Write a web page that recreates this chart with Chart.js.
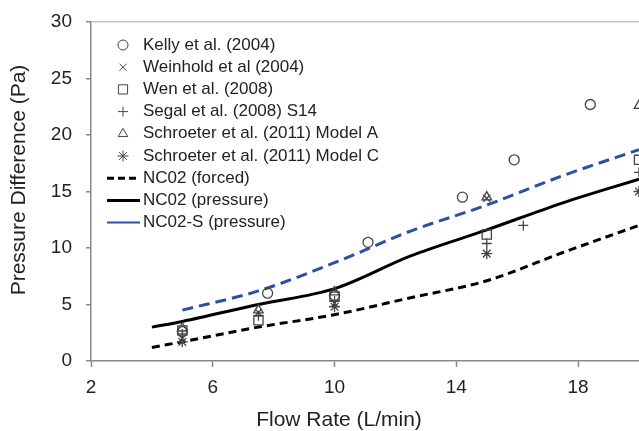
<!DOCTYPE html>
<html>
<head>
<meta charset="utf-8">
<script src="https://cdn.jsdelivr.net/npm/chart.js@4.4.0/dist/chart.umd.min.js"></script>
<style>
  html, body { margin: 0; padding: 0; background: #fff; }
</style>
</head>
<body>
<canvas id="grafico_pressione" width="639" height="431"></canvas>
<script>
// dati
var tick_x = [2, 6, 10, 14, 18];

var kelly_x = [5, 7.8, 10, 11.1, 14.2, 15.9, 18.4];
var kelly_y = [2.6, 6.0, 5.8, 10.5, 14.5, 17.8, 22.7];

var weinhold_x = [5, 7.5, 10, 15];
var weinhold_y = [2.0, 4.3, 5.1, 14.4];

var wen_x = [5, 7.5, 10, 15, 20];
var wen_y = [2.7, 3.6, 5.7, 11.2, 17.8];

var segal_x = [5, 7.5, 10, 15, 16.2, 20];
var segal_y = [2.4, 4.0, 5.3, 10.4, 12.0, 16.7];

var modelA_x = [5, 7.5, 10, 15, 20];
var modelA_y = [2.9, 4.5, 6.1, 14.5, 22.6];

var modelC_x = [5, 10, 15, 20];
var modelC_y = [1.7, 4.8, 9.5, 15.0];

var forced_x = [4, 5, 7.5, 10, 12.5, 15, 17.5, 20];
var forced_y = [1.2, 1.7, 3.0, 4.1, 5.6, 7.1, 9.6, 12.0];

var pressure_x = [4, 5, 7.5, 10, 12.5, 15, 17.5, 20];
var pressure_y = [3.0, 3.5, 5.0, 6.4, 9.3, 11.6, 14.0, 16.1];

var ncs_x = [5, 7.5, 10, 12.5, 15, 17.5, 20];
var ncs_y = [4.5, 6.2, 8.7, 11.5, 13.8, 16.4, 18.7];

var FONT = '"Liberation Sans", Arial, sans-serif';

// unisco x e y in punti
function punti(xs, ys) {
  var out = [];
  for (var i = 0; i < xs.length; i++) {
    out.push({ x: xs[i], y: ys[i] });
  }
  return out;
}

function serie_punti(nome, xs, ys, stile, raggio) {
  return {
    type: 'scatter',
    label: nome,
    data: punti(xs, ys),
    pointStyle: stile,
    pointRadius: raggio,
    pointBorderWidth: 1.3,
    pointBorderColor: '#444',
    pointBackgroundColor: 'rgba(0,0,0,0)',
    borderColor: '#444',
    backgroundColor: 'rgba(0,0,0,0)'
  };
}

function serie_linea(nome, xs, ys, colore, tratteggio) {
  return {
    type: 'line',
    label: nome,
    data: punti(xs, ys),
    borderColor: colore,
    borderWidth: 3,
    borderDash: tratteggio,
    pointRadius: 0,
    fill: false,
    cubicInterpolationMode: 'monotone'
  };
}

var datasets = [
  serie_punti('Kelly et al. (2004)', kelly_x, kelly_y, 'circle', 5),
  serie_punti('Weinhold et al (2004)', weinhold_x, weinhold_y, 'crossRot', 5),
  serie_punti('Wen et al. (2008)', wen_x, wen_y, 'rect', 6.5),
  serie_punti('Segal et al. (2008) S14', segal_x, segal_y, 'cross', 5),
  serie_punti('Schroeter et al. (2011) Model A', modelA_x, modelA_y, 'triangle', 5.5),
  serie_punti('Schroeter et al. (2011) Model C', modelC_x, modelC_y, 'star', 5.5),
  serie_linea('NC02 (forced)', forced_x, forced_y, '#000', [8, 5]),
  serie_linea('NC02 (pressure)', pressure_x, pressure_y, '#000', []),
  serie_linea('NC02-S (pressure)', ncs_x, ncs_y, '#2b4fa3', [11, 6])
];

// legenda e titoli degli assi disegnati a mano
var legenda_plugin = {
  id: 'legenda',
  afterDraw: function(chart) {
    var ctx = chart.ctx;
    var dss = chart.data.datasets;
    ctx.save();
    for (var i = 0; i < dss.length; i++) {
      var ds = dss[i];
      var y = 45 + i * 22.2;
      if (ds.type === 'line') {
        ctx.beginPath();
        ctx.strokeStyle = ds.borderColor;
        ctx.lineWidth = (i === 8) ? 2 : 3;
        ctx.setLineDash(i === 6 ? [7, 4] : []);
        ctx.moveTo(107, y);
        ctx.lineTo(140, y);
        ctx.stroke();
        ctx.setLineDash([]);
      } else {
        ctx.strokeStyle = '#444';
        ctx.fillStyle = 'rgba(0,0,0,0)';
        Chart.helpers.drawPoint(ctx, { pointStyle: ds.pointStyle, radius: ds.pointRadius, borderWidth: 1.3, rotation: 0 }, 123, y);
      }
      ctx.fillStyle = '#222';
      ctx.font = '17px ' + FONT;
      ctx.textBaseline = 'middle';
      ctx.textAlign = 'left';
      ctx.fillText(ds.label, 143, y);
    }
    // titoli assi
    ctx.fillStyle = '#222';
    ctx.font = '21px ' + FONT;
    ctx.textAlign = 'center';
    ctx.textBaseline = 'middle';
    ctx.fillText('Flow Rate (L/min)', 339, 420);
    ctx.translate(19, 180);
    ctx.rotate(-Math.PI / 2);
    ctx.fillText('Pressure Difference (Pa)', 0, 0);
    ctx.restore();
  }
};

var chart = new Chart(document.getElementById('grafico_pressione'), {
  data: { datasets: datasets },
  plugins: [legenda_plugin],
  options: {
    responsive: false,
    animation: false,
    events: [],
    layout: { autoPadding: false, padding: { top: 22, right: 0, left: 0, bottom: 0 } },
    plugins: {
      legend: { display: false },
      tooltip: { enabled: false }
    },
    scales: {
      x: {
        type: 'linear',
        min: 2,
        max: 20,
        afterBuildTicks: function(scale) {
          scale.ticks = tick_x.map(function(v) { return { value: v }; });
        },
        afterFit: function(scale) {
          scale.height = 70;
          scale.paddingLeft = 0;
          scale.paddingRight = 0;
        },
        ticks: { color: '#222', font: { family: FONT, size: 19 }, padding: 9, maxRotation: 0 },
        grid: { drawOnChartArea: false, tickLength: 6, tickColor: '#888', tickWidth: 1.5 },
        border: { color: '#888', width: 1.5 }
      },
      y: {
        min: 0,
        max: 30,
        afterFit: function(scale) {
          scale.width = 91;
          scale.paddingTop = 0;
          scale.paddingBottom = 0;
        },
        ticks: { stepSize: 5, color: '#222', font: { family: FONT, size: 19 }, padding: 14 },
        grid: {
          color: function(c) { return (c.tick && c.tick.value === 30) ? '#c4c4c4' : 'rgba(0,0,0,0)'; },
          lineWidth: 1.5,
          tickLength: 5,
          tickColor: '#888',
          tickWidth: 1.5
        },
        border: { color: '#888', width: 1.5 }
      }
    }
  }
});
</script>
</body>
</html>
